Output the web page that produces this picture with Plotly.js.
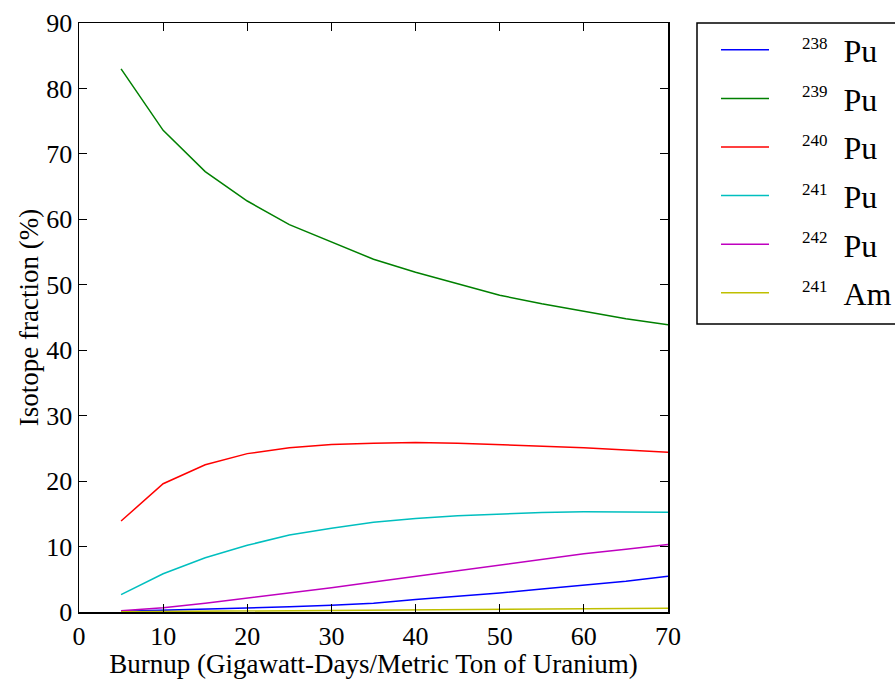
<!DOCTYPE html>
<html>
<head>
<meta charset="utf-8">
<script src="https://cdn.plot.ly/plotly-3.0.1.min.js"></script>
<style>html,body{margin:0;padding:0;background:#fff;}#chart{width:895px;height:679px;}</style>
</head>
<body>
<div id="chart"></div>
<script>
const burnup = [5, 10, 15, 20, 25, 30, 35, 40, 45, 50, 55, 60, 65, 70];
const pu238 = [0.1, 0.25, 0.4, 0.6, 0.8, 1.05, 1.35, 1.9, 2.35, 2.9, 3.5, 4.05, 4.7, 5.45];
const pu239 = [83.0, 73.6, 67.3, 62.8, 59.2, 56.5, 53.9, 51.9, 50.1, 48.4, 47.1, 45.9, 44.8, 43.9];
const pu240 = [13.9, 19.6, 22.5, 24.2, 25.1, 25.6, 25.8, 25.9, 25.8, 25.6, 25.35, 25.1, 24.75, 24.4];
const pu241 = [2.65, 5.85, 8.3, 10.2, 11.75, 12.8, 13.7, 14.3, 14.7, 15.0, 15.2, 15.3, 15.3, 15.25];
const pu242 = [0.2, 0.65, 1.35, 2.1, 2.9, 3.7, 4.6, 5.45, 6.3, 7.2, 8.1, 8.9, 9.6, 10.3];
const am241 = [0.04, 0.09, 0.14, 0.19, 0.24, 0.29, 0.33, 0.37, 0.41, 0.45, 0.48, 0.51, 0.54, 0.56];

const massNumbers = ['238', '239', '240', '241', '242', '241'];
const elements = ['Pu', 'Pu', 'Pu', 'Pu', 'Pu', 'Am'];
const seriesValues = [pu238, pu239, pu240, pu241, pu242, am241];
const seriesColors = ['#0000ff', '#008000', '#ff0000', '#00bfbf', '#bf00bf', '#bfbf00'];

const lead = '<span style="font-size:28px">&nbsp;&nbsp;&nbsp;&nbsp;</span>';
const traces = seriesValues.map((vals, i) => ({
  x: burnup, y: vals, type: 'scatter', mode: 'lines',
  name: lead + '<sup><span style="font-size:17px">' + massNumbers[i] + '</span></sup>&nbsp;&nbsp;' + elements[i],
  legendgroup: 'g' + i,
  line: {color: seriesColors[i], width: 1.5}
}));

const fontFam = 'Liberation Serif, serif';
const axisCommon = {
  showline: true, linecolor: '#000', linewidth: 1.5, mirror: 'ticks',
  ticks: 'inside', ticklen: 8, tickwidth: 1, tickcolor: '#000',
  showgrid: false, zeroline: false,
  tickfont: {family: fontFam, size: 26, color: '#000'}
};

const layout = {
  width: 895, height: 679,
  margin: {l: 79, r: 227, t: 23, b: 67},
  paper_bgcolor: '#fff', plot_bgcolor: '#fff',
  font: {family: fontFam, color: '#000'},
  xaxis: Object.assign({}, axisCommon, {
    range: [0, 70], tick0: 0, dtick: 10,
    title: {text: 'Burnup (Gigawatt-Days/Metric Ton of Uranium)', font: {family: fontFam, size: 27, color: '#000'}, standoff: 3}
  }),
  yaxis: Object.assign({}, axisCommon, {
    range: [0, 90], tick0: 0, dtick: 10,
    title: {text: 'Isotope fraction (%)', font: {family: fontFam, size: 27, color: '#000'}, standoff: 0}
  }),
  shapes: [{
    type: 'rect', xref: 'paper', yref: 'paper',
    x0: (697 - 79) / 589, x1: 1.40, y0: (612 - 324) / 589, y1: 1,
    line: {color: '#000', width: 1.5}, fillcolor: 'rgba(0,0,0,0)'
  }],
  showlegend: true,
  legend: {
    xref: 'container', yref: 'container',
    x: 716 / 895, xanchor: 'left', y: 1 - 22.5 / 679, yanchor: 'top',
    borderwidth: 0, bgcolor: 'rgba(0,0,0,0)',
    font: {family: fontFam, size: 32, color: '#000'},
    tracegroupgap: 4, itemwidth: 48
  }
};

Plotly.newPlot('chart', traces, layout, {staticPlot: true});
</script>
</body>
</html>
